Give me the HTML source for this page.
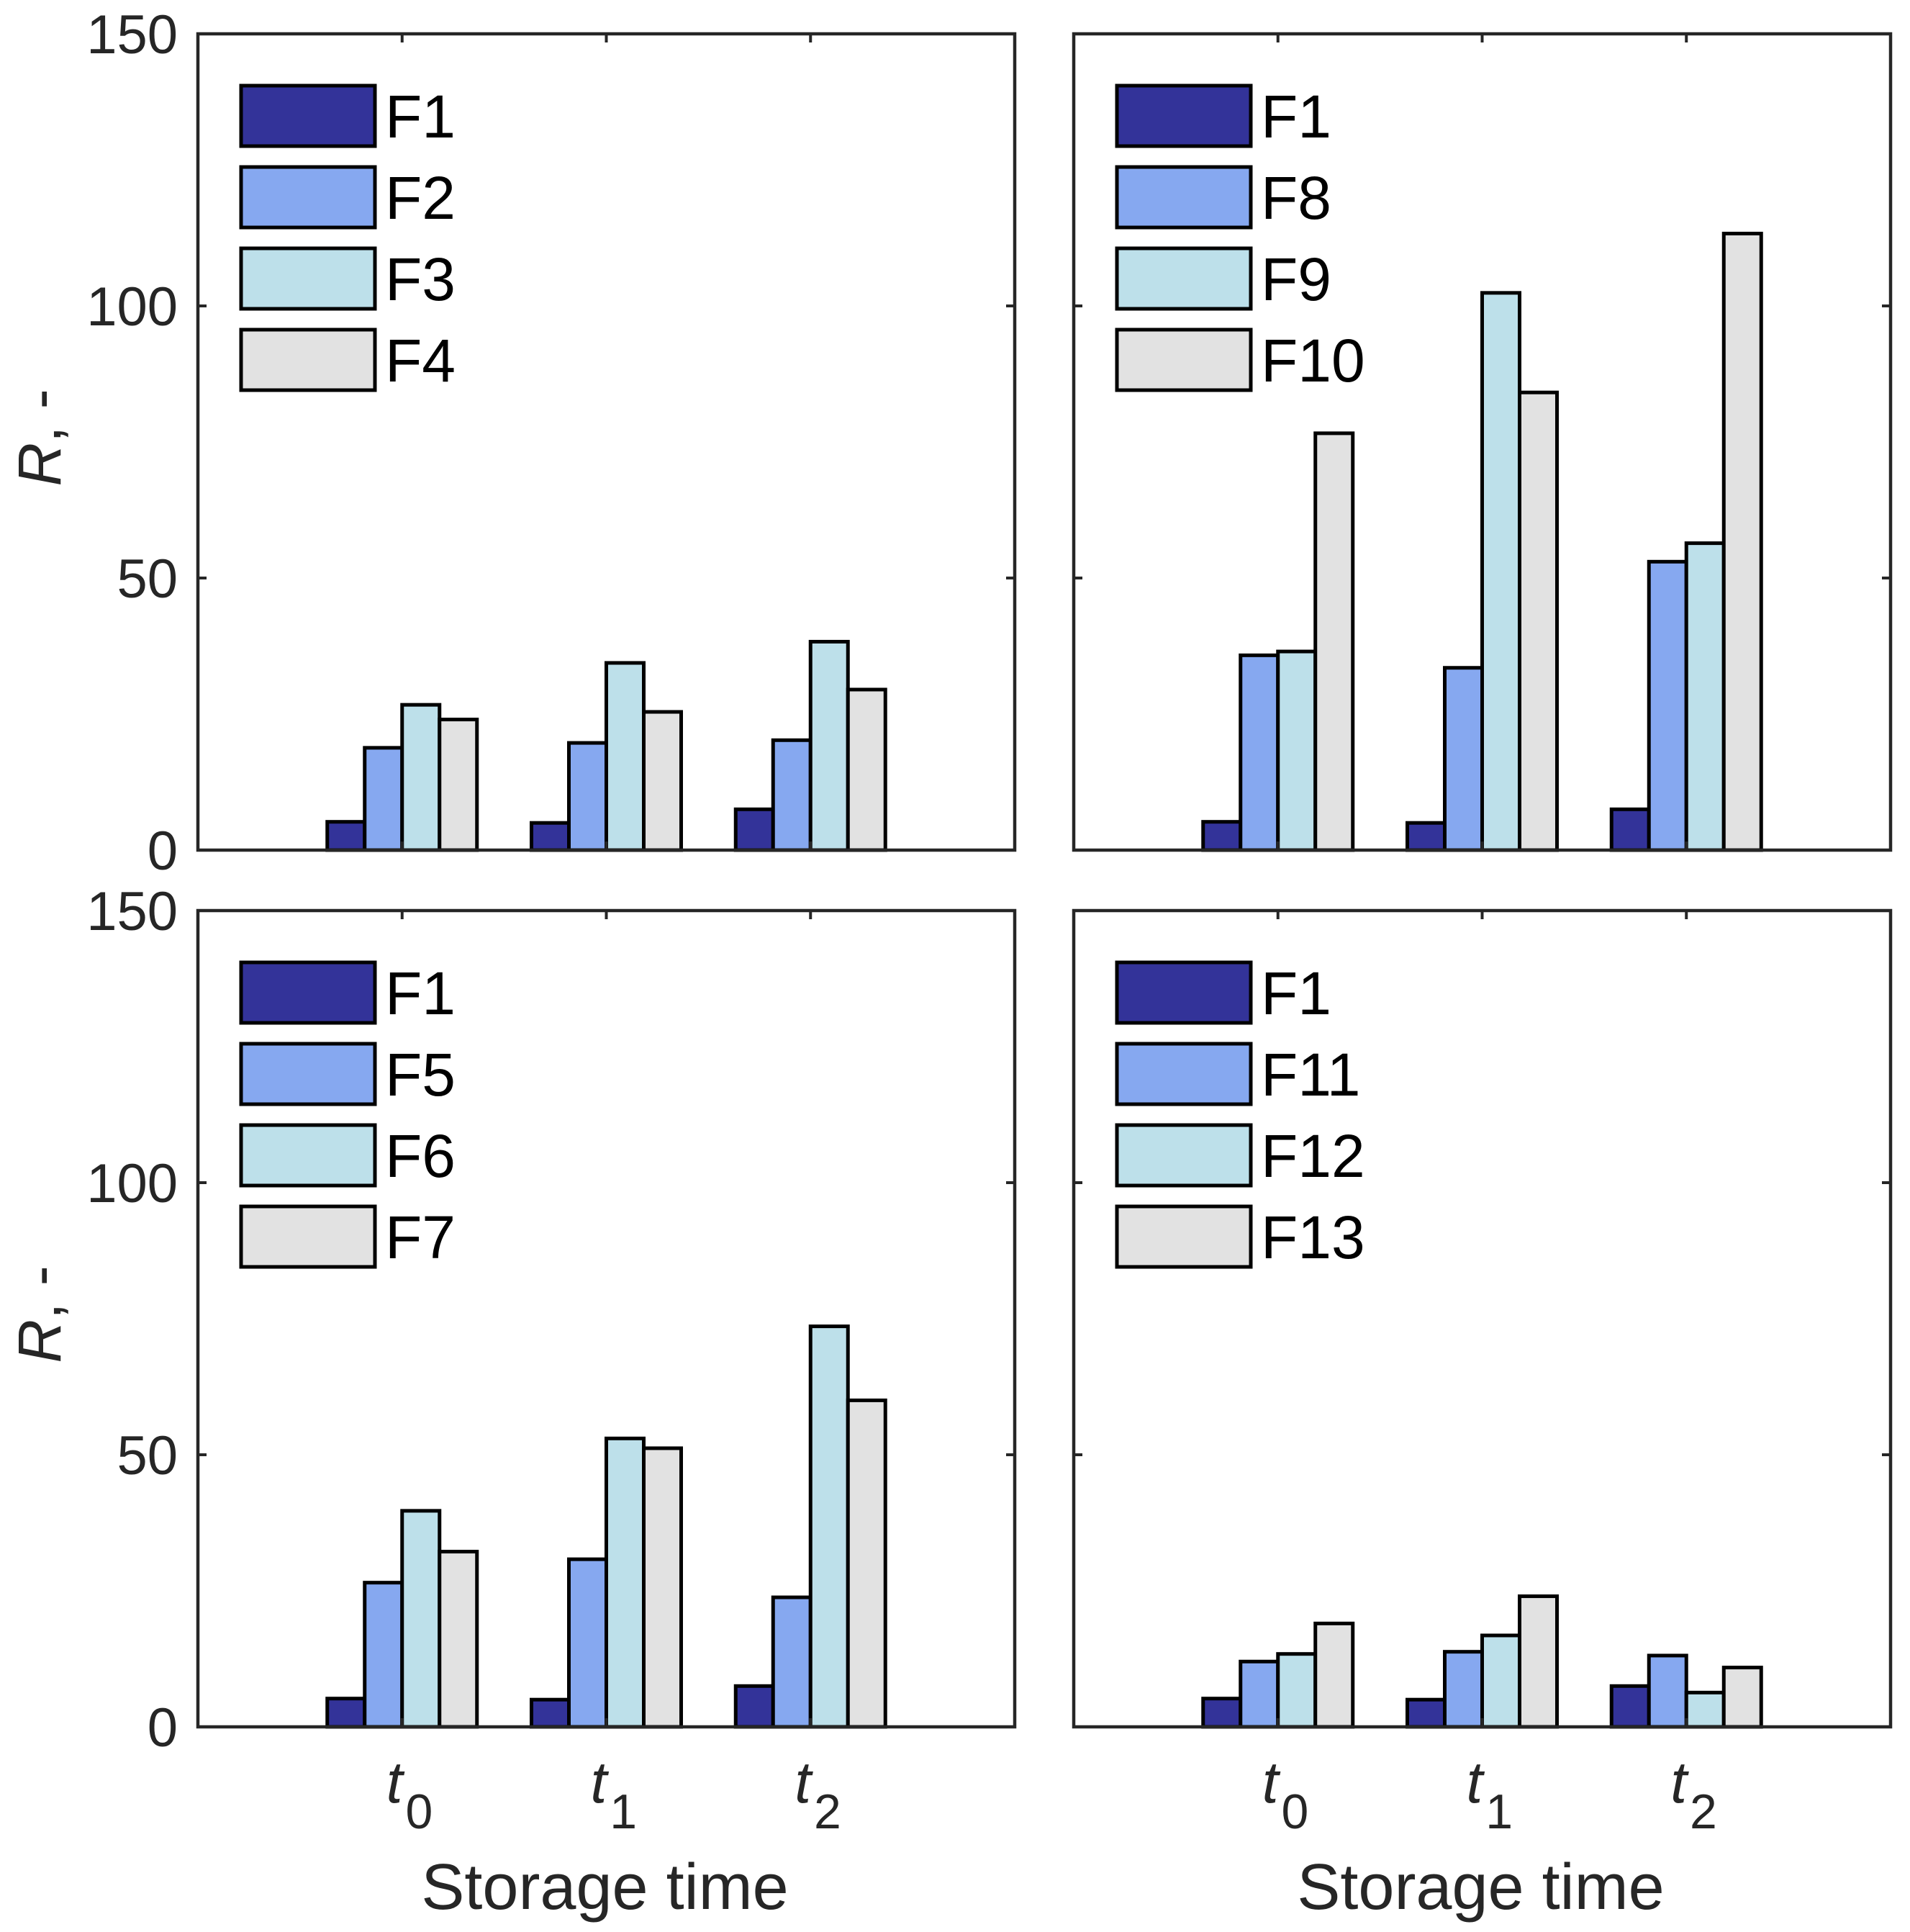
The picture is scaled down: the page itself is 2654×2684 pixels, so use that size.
<!DOCTYPE html>
<html><head><meta charset="utf-8"><style>
html,body{margin:0;padding:0;background:#fff;}
svg{display:block;font-family:"Liberation Sans",Arial,sans-serif;}
</style></head><body>
<svg id="chart" width="2654" height="2684" viewBox="0 0 2654 2684" xmlns="http://www.w3.org/2000/svg"></svg>
<script>
const categories = ["0","1","2"];
const yTicks = [0,50,100,150];
const colors = ["#333399","#86a8f0","#bde0ea","#e2e2e2"];
const legendTL = ["F1","F2","F3","F4"];
const legendTR = ["F1","F8","F9","F10"];
const legendBL = ["F1","F5","F6","F7"];
const legendBR = ["F1","F11","F12","F13"];
const valuesTL = [[5.2,18.8,26.7,24.0],[5.0,19.7,34.4,25.4],[7.5,20.2,38.3,29.5]];
const valuesTR = [[5.2,35.8,36.5,76.6],[5.0,33.5,102.4,84.1],[7.5,53.0,56.4,113.3]];
const valuesBL = [[5.2,26.5,39.7,32.2],[5.0,30.8,53.0,51.2],[7.5,23.8,73.6,60.0]];
const valuesBR = [[5.2,12.0,13.4,19.0],[5.0,13.8,16.8,24.0],[7.5,13.1,6.3,10.9]];

const NS="http://www.w3.org/2000/svg";
const svg=document.getElementById('chart');
function mk(tag,attrs,parent){const e=document.createElementNS(NS,tag);for(const k in attrs)e.setAttribute(k,attrs[k]);(parent||svg).appendChild(e);return e;}

const panels=[
 {name:'top-left',x0:275,y0:47,vals:valuesTL,leg:legendTL,yl:true,xl:false},
 {name:'top-right',x0:1492,y0:47,vals:valuesTR,leg:legendTR,yl:false,xl:false},
 {name:'bottom-left',x0:275,y0:1265,vals:valuesBL,leg:legendBL,yl:true,xl:true},
 {name:'bottom-right',x0:1492,y0:1265,vals:valuesBR,leg:legendBR,yl:false,xl:true}
];
const W=1135,H=1134,BW=52;
panels.forEach(p=>{
  const g=mk('g',{});
  
  
  const xs=v=>p.x0+W*(v/4);
  const ys=v=>p.y0+H-H*(v/150);
  p.vals.forEach((grp,ci)=>{
    grp.forEach((v,si)=>{
      const cx=xs(ci+1)+(si-1.5)*BW;
      const r=mk('rect',{x:cx-BW/2,y:ys(v),width:BW,height:ys(0)-ys(v),fill:colors[si],stroke:'#000','stroke-width':5},g);
      
      
    });
  });
  const box=mk('rect',{x:p.x0,y:p.y0,width:W,height:H,fill:'none',stroke:'#262626','stroke-width':4.5},g);
  
  
  yTicks.forEach(t=>{
    const y=ys(t);
    mk('line',{x1:p.x0,x2:p.x0+12,y1:y,y2:y,stroke:'#262626','stroke-width':4},g);
    mk('line',{x1:p.x0+W-12,x2:p.x0+W,y1:y,y2:y,stroke:'#262626','stroke-width':4},g);
    if(p.yl){
      const tx=mk('text',{x:p.x0-28,y:y+27,'font-size':76,'text-anchor':'end',fill:'#262626'},g);
      tx.textContent=t;
      
      
    }
  });
  categories.forEach((c,ci)=>{
    const x=xs(ci+1);
    mk('line',{x1:x,x2:x,y1:p.y0,y2:p.y0+12,stroke:'#262626','stroke-width':4},g);
    mk('line',{x1:x,x2:x,y1:p.y0+H-12,y2:p.y0+H,stroke:'#262626','stroke-width':4},g);
    if(p.xl){
      const tx=mk('text',{x:x-22,y:2504,'font-size':82,fill:'#262626'},g);
      
      
      const a=mk('tspan',{'font-style':'italic'},tx);a.textContent='t';
      const b=mk('tspan',{dy:36,dx:4,'font-size':68},tx);b.textContent=c;
    }
  });
  p.leg.forEach((l,i)=>{
    const y=p.y0+72+i*113;
    const s=mk('rect',{x:p.x0+60,y:y,width:186,height:84,fill:colors[i],stroke:'#000','stroke-width':5},g);
    
    
    const t=mk('text',{x:p.x0+260,y:y+72,'font-size':84,fill:'#000'},g);
    t.textContent=l;
    
    
  });
  if(p.yl){
    const cy=p.y0+H/2;
    const t=mk('text',{x:0,y:0,'font-size':84,'text-anchor':'middle',fill:'#262626',transform:`translate(84,${cy-6}) rotate(-90)`},g);
    
    
    const a=mk('tspan',{'font-style':'italic'},t);a.textContent='R';
    const b=mk('tspan',{},t);b.textContent=', -';
  }
  if(p.xl){
    const t=mk('text',{x:p.x0+W/2-2,y:2652,'font-size':90,'text-anchor':'middle',fill:'#262626'},g);
    t.textContent='Storage time';
    
    
  }
});
</script>
</body></html>
